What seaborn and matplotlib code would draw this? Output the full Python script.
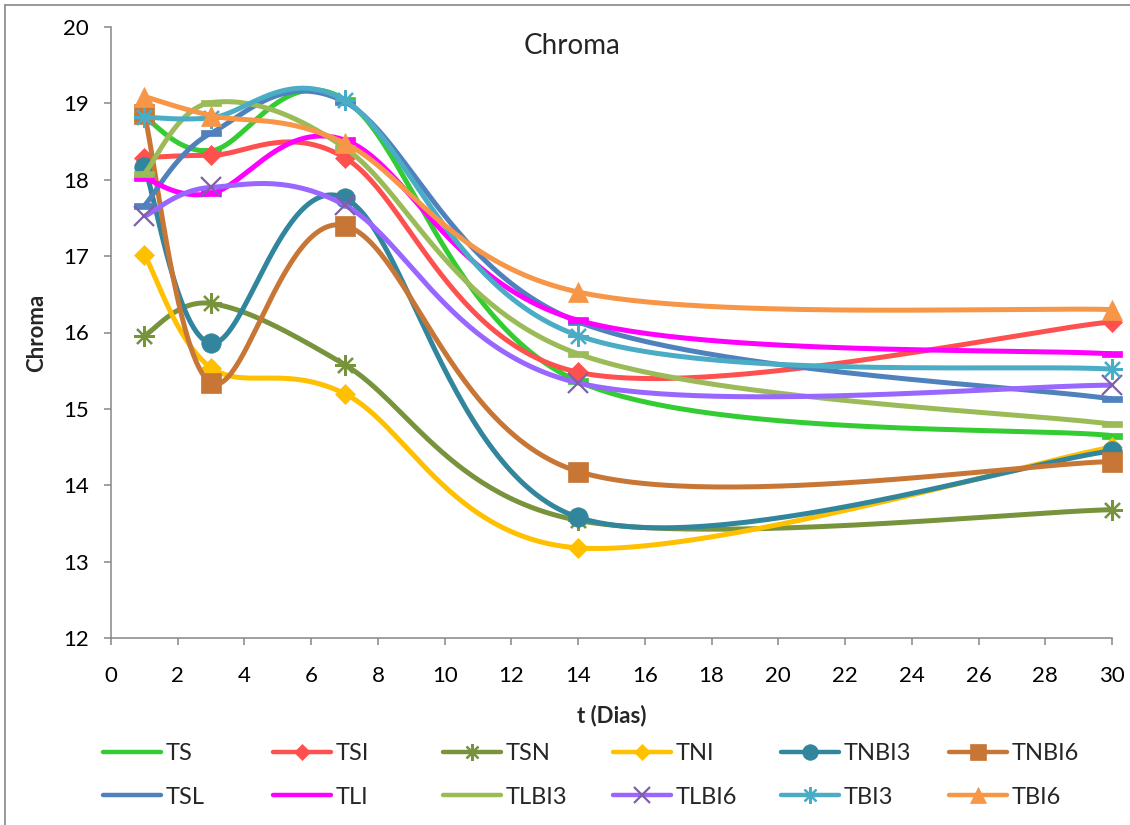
import numpy as np
import pandas as pd
import matplotlib
matplotlib.use("Agg")
import matplotlib.pyplot as plt
from matplotlib.lines import Line2D
from matplotlib.path import Path
import seaborn as sns

# Chroma readings per treatment over storage time (days)
days = [1, 3, 7, 14, 30]
ts = [18.82, 18.38, 19.05, 15.36, 14.65]
tsi = [18.29, 18.32, 18.29, 15.48, 16.14]
tsn = [15.96, 16.38, 15.58, 13.54, 13.68]
tni = [17.02, 15.54, 15.20, 13.18, 14.50]
tnbi3 = [18.17, 15.86, 17.76, 13.58, 14.45]
tnbi6 = [18.86, 15.34, 17.40, 14.18, 14.31]
tsl = [17.66, 18.61, 19.02, 16.14, 15.13]
tli = [18.02, 17.82, 18.52, 16.16, 15.72]
tlbi3 = [18.08, 19.01, 18.42, 15.72, 14.80]
tlbi6 = [17.52, 17.90, 17.67, 15.34, 15.31]
tbi3 = [18.82, 18.81, 19.04, 15.96, 15.52]
tbi6 = [19.09, 18.84, 18.48, 16.53, 16.30]

names = ["TS", "TSI", "TSN", "TNI", "TNBI3", "TNBI6",
         "TSL", "TLI", "TLBI3", "TLBI6", "TBI3", "TBI6"]
values = [ts, tsi, tsn, tni, tnbi3, tnbi6, tsl, tli, tlbi3, tlbi6, tbi3, tbi6]

# short horizontal bar marker
DASH = Path([(-1, -0.34), (1, -0.34), (1, 0.34), (-1, 0.34), (-1, -0.34)],
            [Path.MOVETO, Path.LINETO, Path.LINETO, Path.LINETO, Path.CLOSEPOLY])

styles = {
    "TS":    dict(color="#33CC33", marker=DASH, ms=14, mec="#33CC33", mew=0.5),
    "TSI":   dict(color="#FF5050", marker="D", ms=10, mec="#FF5050", mew=0.5),
    "TSN":   dict(color="#77933C", marker=(8, 2, 0), ms=15, mec="#77933C", mew=1.6),
    "TNI":   dict(color="#FFC000", marker="D", ms=10, mec="#FFC000", mew=0.5),
    "TNBI3": dict(color="#31859C", marker="o", ms=14, mec="#31859C", mew=0.5),
    "TNBI6": dict(color="#C87636", marker="s", ms=14, mec="#C87636", mew=0.5),
    "TSL":   dict(color="#4F81BD", marker=DASH, ms=14, mec="#4F81BD", mew=0.5),
    "TLI":   dict(color="#FF00FF", marker=DASH, ms=14, mec="#FF00FF", mew=0.5),
    "TLBI3": dict(color="#9BBB59", marker=DASH, ms=14, mec="#9BBB59", mew=0.5),
    "TLBI6": dict(color="#9966FF", marker="x", ms=15, mec="#7F5FA6", mew=1.6),
    "TBI3":  dict(color="#4BACC6", marker=(8, 2, 0), ms=15, mec="#4BACC6", mew=1.6),
    "TBI6":  dict(color="#F79646", marker="^", ms=14, mec="#F79646", mew=0.5),
}

W, H = 1130, 825
AX_L, AX_R, AX_T, AX_B = 111, 1112, 27, 638
XMIN, XMAX, YMIN, YMAX = 0, 30, 12, 20
SX = (AX_R - AX_L) / (XMAX - XMIN)
SY = (AX_B - AX_T) / (YMAX - YMIN)


def smooth_curve(x, y, n=60):
    """Bezier smoothing through the points, computed in screen proportions."""
    p = np.column_stack([np.asarray(x, float) * SX, np.asarray(y, float) * SY])
    out = []
    m = len(p)
    for i in range(m - 1):
        p0 = p[i - 1] if i > 0 else p[i]
        p1, p2 = p[i], p[i + 1]
        p3 = p[i + 2] if i + 2 < m else p[i + 1]
        d02 = np.linalg.norm(p2 - p0)
        d13 = np.linalg.norm(p3 - p1)
        d12 = np.linalg.norm(p2 - p1)
        f0 = 1 / 6 if d02 / 6 < d12 / 2 else (d12 / d02 / 2 if d02 > 0 else 0)
        f1 = 1 / 6 if d13 / 6 < d12 / 2 else (d12 / d13 / 2 if d13 > 0 else 0)
        c1 = p1 + (p2 - p0) * f0
        c2 = p2 - (p3 - p1) * f1
        t = np.linspace(0, 1, n)[:, None]
        seg = ((1 - t) ** 3) * p1 + 3 * ((1 - t) ** 2) * t * c1 \
            + 3 * (1 - t) * t ** 2 * c2 + t ** 3 * p2
        out.append(seg if i == 0 else seg[1:])
    out = np.vstack(out)
    return out[:, 0] / SX, out[:, 1] / SY


sns.set_theme(style="white")
plt.rcParams["font.family"] = ["Lato", "DejaVu Sans"]

fig = plt.figure(figsize=(W / 100, H / 100), dpi=100)
ax = fig.add_axes([AX_L / W, 1 - AX_B / H, (AX_R - AX_L) / W, (AX_B - AX_T) / H])

LW = 3.6
for name, vals in zip(names, values):
    st = styles[name]
    sx_, sy_ = smooth_curve(days, vals)
    curve = pd.DataFrame({"t": sx_, "v": sy_})
    sns.lineplot(data=curve, x="t", y="v", ax=ax, sort=False, estimator=None,
                 color=st["color"], linewidth=LW, solid_capstyle="butt", legend=False)
    ax.plot(days, vals, linestyle="none", marker=st["marker"], markersize=st["ms"],
            markerfacecolor=st["color"], markeredgecolor=st["mec"],
            markeredgewidth=st["mew"], clip_on=False)

ax.set_xlim(XMIN, XMAX)
ax.set_ylim(YMIN, YMAX)
ax.set_xticks(np.arange(0, 31, 2))
ax.set_yticks(np.arange(12, 21, 1))

for side in ["top", "right"]:
    ax.spines[side].set_visible(False)
for side in ["left", "bottom"]:
    ax.spines[side].set_color("#868686")
    ax.spines[side].set_linewidth(1.1)
ax.tick_params(axis="both", which="major", direction="out", length=5, width=1.1,
               color="#868686", labelsize=16, labelcolor="black",
               left=True, bottom=True)
ax.tick_params(axis="y", pad=11)
ax.tick_params(axis="x", pad=15)

ax.set_xlabel("t (Dias)", fontsize=16, fontweight="bold")
ax.set_ylabel("Chroma", fontsize=16, fontweight="bold")
ax.xaxis.set_label_coords(0.5, (AX_B - 716) / (AX_B - AX_T))
ax.xaxis.label.set_va("center")
ax.yaxis.set_label_coords((37 - AX_L) / (AX_R - AX_L), 0.5)
ax.yaxis.label.set_va("center")

fig.text(572 / W, 1 - 46 / H, "Chroma", ha="center", va="center", fontsize=20)

# chart frame (top and left edges)
fig.add_artist(Line2D([5 / W, 5 / W], [0, 1 - 5 / H], transform=fig.transFigure,
                      color="#898989", linewidth=1.2))
fig.add_artist(Line2D([5 / W, 1], [1 - 5 / H, 1 - 5 / H], transform=fig.transFigure,
                      color="#898989", linewidth=1.2))

# legend: two rows of six evenly spaced entries
col_x = [103, 273, 443, 613, 781, 949]
row_y = [754, 797]
for k, name in enumerate(names):
    st = styles[name]
    mk = "None" if st["marker"] is DASH else st["marker"]
    handle = Line2D([], [], color=st["color"], linewidth=3.2, marker=mk,
                    markersize=st["ms"] * 0.8, markerfacecolor=st["color"],
                    markeredgecolor=st["mec"], markeredgewidth=st["mew"],
                    solid_capstyle="round")
    r, c = divmod(k, 6)
    fig.legend([handle], [name], loc="center left",
               bbox_to_anchor=(col_x[c] / W, 1 - row_y[r] / H),
               frameon=False, fontsize=17, handlelength=2.45,
               handletextpad=0.2, borderpad=0, borderaxespad=0)

fig.savefig("out.png", dpi=100)
